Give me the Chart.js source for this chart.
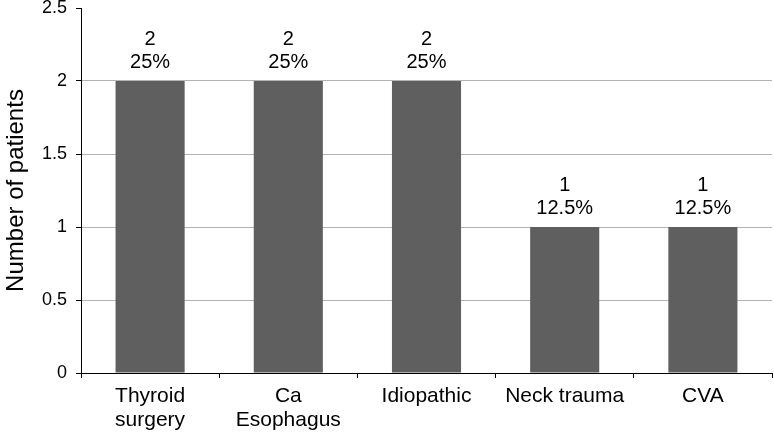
<!DOCTYPE html>
<html>
<head>
<meta charset="utf-8">
<script src="https://cdn.jsdelivr.net/npm/chart.js@4/dist/chart.umd.min.js"></script>
<style>
html,body{margin:0;padding:0;background:#fff;}
#wrap{width:774px;height:435px;position:relative;}
</style>
</head>
<body>
<div id="wrap"><canvas id="c" width="774" height="435"></canvas></div>
<script>
const categories = [["Thyroid","surgery"],["Ca","Esophagus"],"Idiopathic","Neck trauma","CVA"];
const patients = [2, 2, 2, 1, 1];
const percentLabels = ["25%", "25%", "25%", "12.5%", "12.5%"];
const yTicks = [0, 0.5, 1, 1.5, 2, 2.5];

const FONT = "'Liberation Sans', Arial, sans-serif";

const labelPlugin = {
  id: 'barLabels',
  afterDatasetsDraw(chart) {
    const ctx = chart.ctx;
    const meta = chart.getDatasetMeta(0);
    ctx.save();
    ctx.fillStyle = '#000';
    ctx.font = '20px ' + FONT;
    ctx.textAlign = 'center';
    ctx.textBaseline = 'alphabetic';
    meta.data.forEach((bar, i) => {
      ctx.fillText(String(patients[i]), bar.x, bar.y - 36);
      ctx.fillText(percentLabels[i], bar.x, bar.y - 13.5);
    });
    ctx.restore();
  }
};

new Chart(document.getElementById('c'), {
  type: 'bar',
  data: {
    labels: categories,
    datasets: [{
      data: patients,
      backgroundColor: '#5f5f5f',
      borderWidth: 0,
      barPercentage: 0.5,
      categoryPercentage: 1
    }]
  },
  options: {
    responsive: false,
    animation: false,
    devicePixelRatio: 1,
    layout: { padding: { top: 8, right: 2, left: 0, bottom: 0 } },
    plugins: { legend: { display: false }, tooltip: { enabled: false } },
    scales: {
      x: {
        grid: { display: true, drawOnChartArea: false, drawTicks: true, tickLength: 5, color: '#000', offset: true },
        border: { display: true, color: '#000', width: 1 },
        ticks: { color: '#000', font: { family: FONT, size: 21, lineHeight: 1.15 }, padding: 6, maxRotation: 0, autoSkip: false },
        afterFit(scale) { scale.height = 62; scale.paddingLeft = 0; scale.paddingRight = 0; }
      },
      y: {
        min: 0, max: 2.5,
        afterBuildTicks(scale) { scale.ticks = yTicks.map(v => ({ value: v })); },
        grid: {
          color: ctx => (ctx.tick && ctx.tick.value === 2.5) ? 'rgba(0,0,0,0)' : '#b3b3b3',
          tickColor: '#000', tickLength: 5, drawTicks: true
        },
        border: { display: true, color: '#000', width: 1 },
        ticks: { color: '#000', font: { family: FONT, size: 18 }, padding: 9,
          callback: v => String(v) },
        title: { display: true, text: 'Number of patients', color: '#000',
          font: { family: FONT, size: 24 }, padding: { top: 2, bottom: 0 } },
        afterFit(scale) { scale.width = 81; scale.paddingTop = 0; scale.paddingBottom = 0; }
      }
    }
  },
  plugins: [labelPlugin]
});
</script>
</body>
</html>
